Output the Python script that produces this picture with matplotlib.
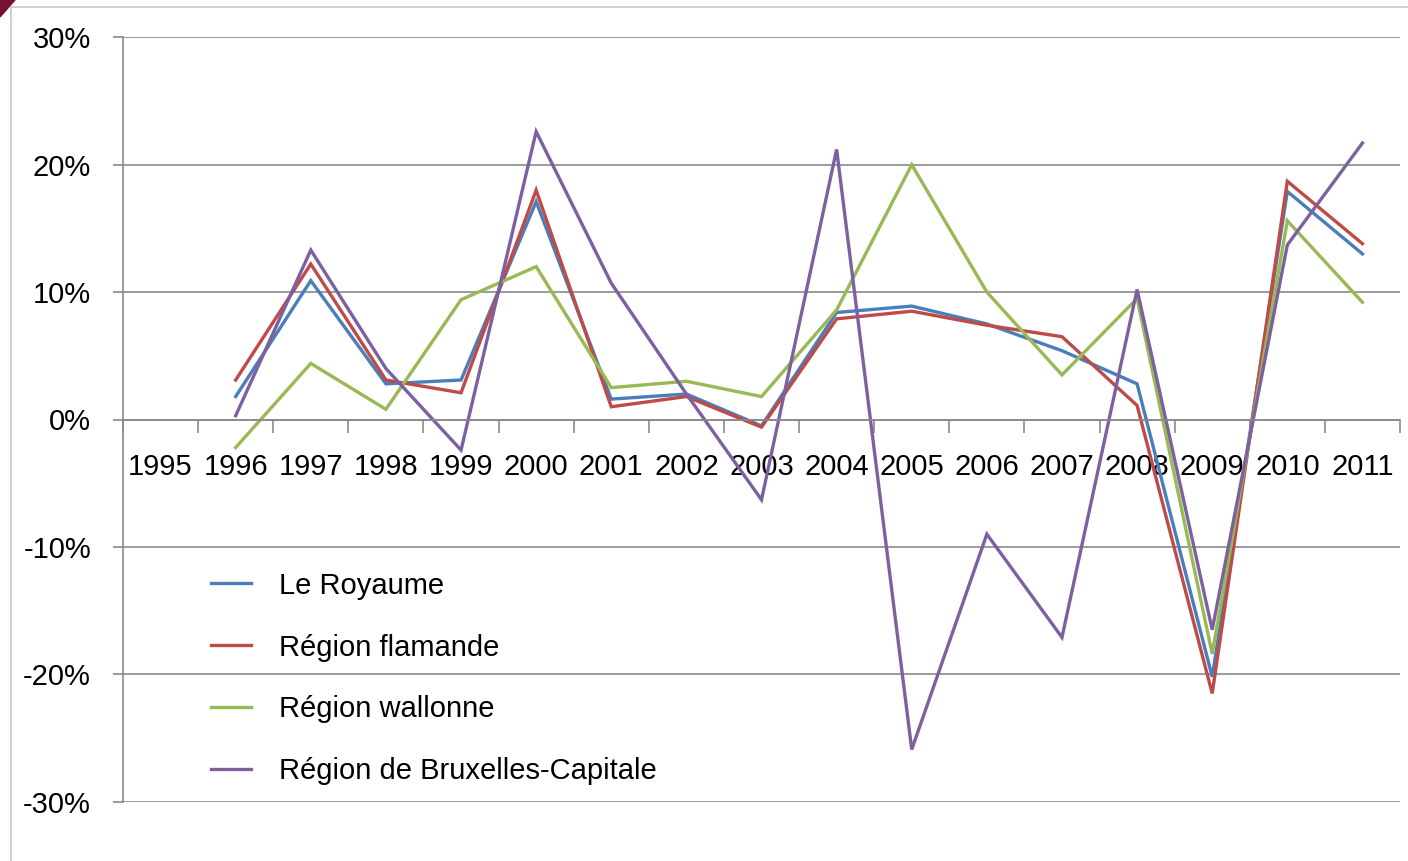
import matplotlib
matplotlib.use("Agg")
import matplotlib.pyplot as plt
from matplotlib.lines import Line2D
from matplotlib.patches import Polygon

years = list(range(1995, 2012))

# growth rates in %, None for 1995 (no value)
royaume = [None, 1.8, 10.9, 2.8, 3.1, 17.1, 1.6, 2.0, -0.5, 8.4, 8.9, 7.5, 5.4, 2.8, -20.2, 17.9, 13.0]
flamande = [None, 3.1, 12.2, 3.1, 2.1, 18.0, 1.0, 1.8, -0.6, 7.9, 8.5, 7.4, 6.5, 1.1, -21.5, 18.7, 13.8]
wallonne = [None, -2.2, 4.4, 0.8, 9.4, 12.0, 2.5, 3.0, 1.8, 8.6, 20.0, 10.0, 3.5, 9.5, -18.4, 15.6, 9.2]
bruxelles = [None, 0.3, 13.3, 4.0, -2.4, 22.6, 10.7, 2.0, -6.3, 21.2, -25.9, -9.0, -17.1, 10.2, -16.5, 13.7, 21.7]

names = ["Le Royaume", "Région flamande", "Région wallonne", "Région de Bruxelles-Capitale"]
colors = ["#4A7EBB", "#BE4B48", "#98B954", "#7D60A0"]
series = [royaume, flamande, wallonne, bruxelles]

plt.rcParams['font.family'] = ['Liberation Sans', 'DejaVu Sans']
fs = 21
grey = "#8a8a8a"

W, H = 1408, 861
fig = plt.figure(figsize=(W / 100, H / 100), dpi=100)
ax = fig.add_axes([123 / W, 1 - 801.7 / H, (1400 - 123) / W, (801.7 - 37.3) / H])

x = list(range(len(years)))
for s, name, c in zip(series, names, colors):
    xs = [i for i, v in zip(x, s) if v is not None]
    ys = [v / 100 for v in s if v is not None]
    ax.plot(xs, ys, color=c, lw=2.4, label=name, solid_joinstyle='miter')

ax.set_xlim(-0.5, len(years) - 0.5)
ax.set_ylim(-0.30, 0.30)

yt = [-0.3, -0.2, -0.1, 0, 0.1, 0.2, 0.3]
ax.set_yticks(yt)
ax.set_yticklabels([f"{int(round(v * 100))}%" for v in yt])
ax.yaxis.grid(True, color=grey, lw=1.2)
ax.tick_params(axis='y', length=7, width=1.2, color=grey, pad=16, labelsize=fs)

ax.set_xticks(x)
ax.set_xticklabels([str(y) for y in years])
ax.set_xticks([i - 0.5 for i in range(len(years) + 1)], minor=True)
ax.tick_params(axis='x', which='major', length=0, pad=24, labelsize=fs)
ax.tick_params(axis='x', which='minor', length=9, width=1.2, color=grey, direction='out')

ax.spines['bottom'].set_position(('data', 0))
ax.spines['bottom'].set_color(grey)
ax.spines['bottom'].set_linewidth(1.2)
ax.spines['left'].set_color(grey)
ax.spines['left'].set_linewidth(1.2)
ax.spines['top'].set_visible(False)
ax.spines['right'].set_visible(False)

ax.legend(loc='upper left', bbox_to_anchor=(199 / W, 1 - 560 / H), bbox_transform=fig.transFigure,
          frameon=False, fontsize=fs, handlelength=1.37, handletextpad=0.96, labelspacing=1.16,
          borderaxespad=0)

# chart frame and slide corner
fig.add_artist(Line2D([11 / W, 11 / W], [0, 1 - 7 / H], color="#c8c8c8", lw=1.2))
fig.add_artist(Line2D([11 / W, 1], [1 - 7 / H, 1 - 7 / H], color="#c8c8c8", lw=1.2))
fig.add_artist(Polygon([(0, 1), (0, 1 - 17 / H), (15 / W, 1)], closed=True,
                       transform=fig.transFigure, color="#7a1030"))

fig.savefig("out.png", dpi=100)
